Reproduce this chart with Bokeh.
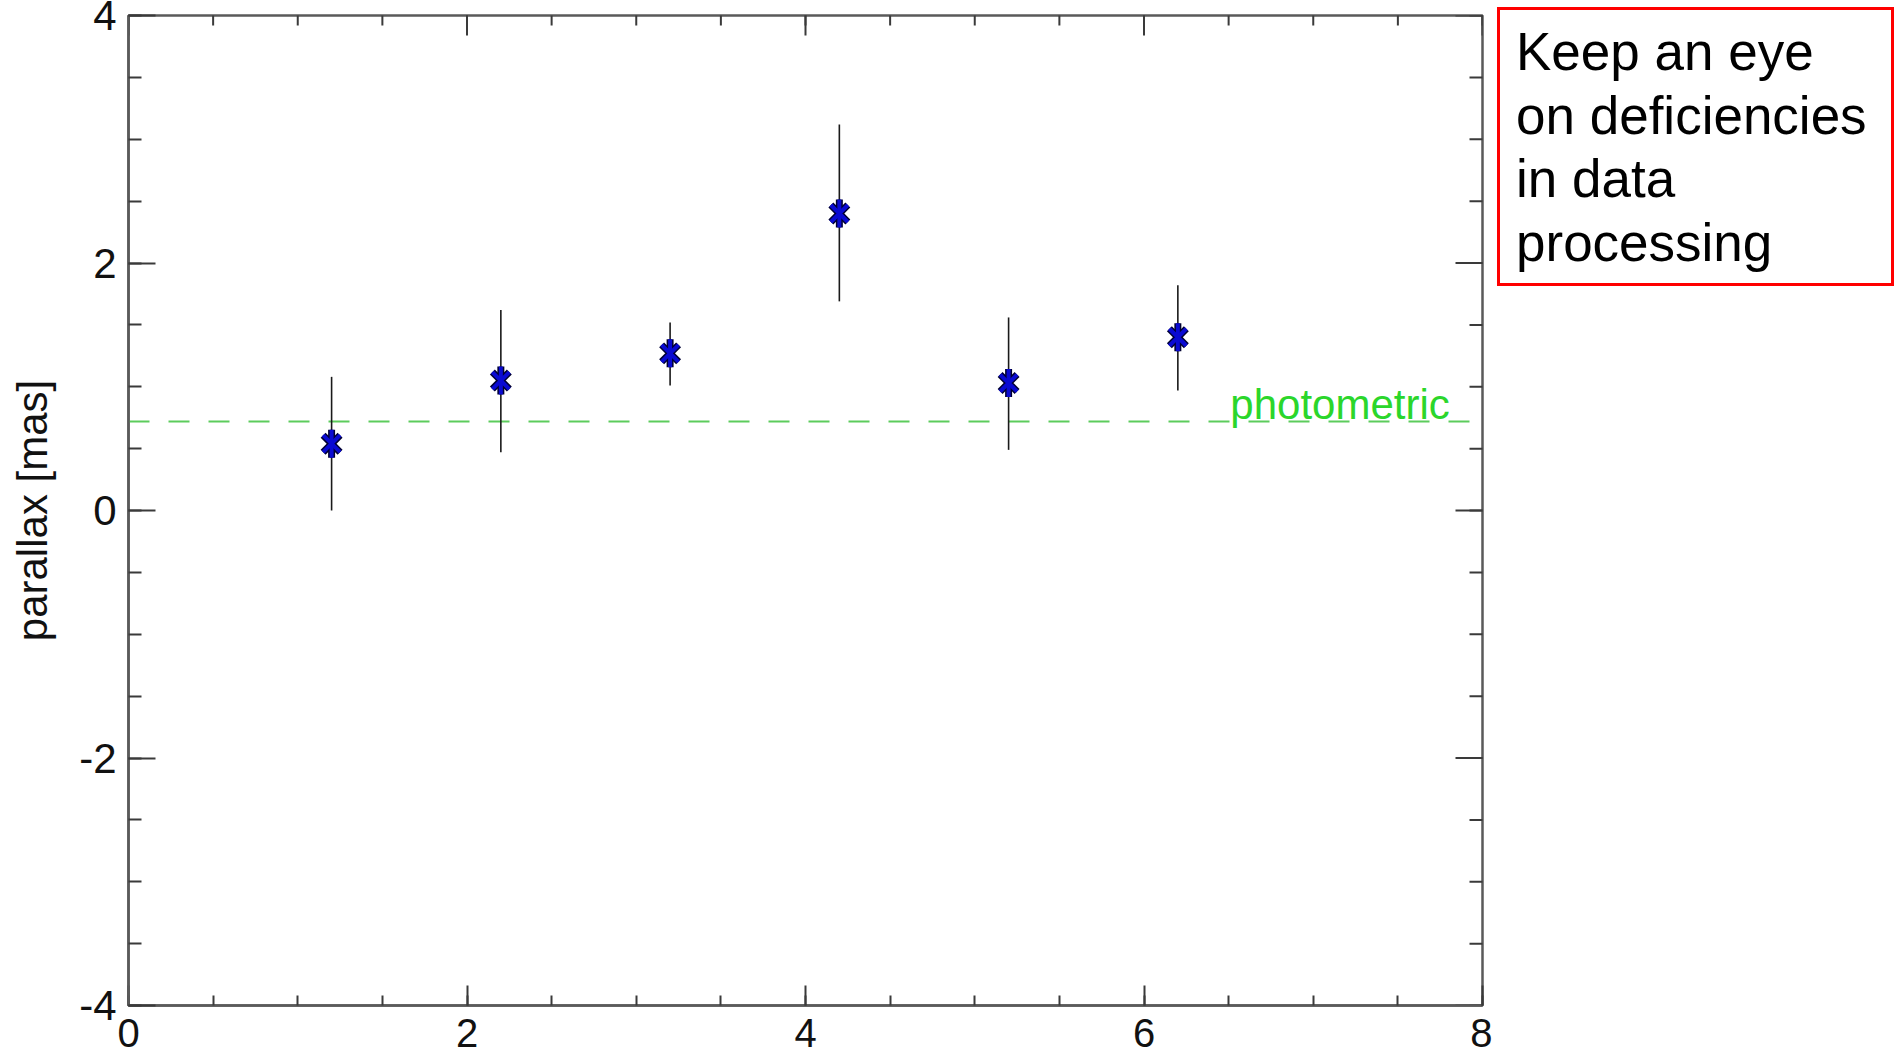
from bokeh.plotting import figure
from bokeh.models import Range1d, LinearAxis, FixedTicker, Div
from bokeh.layouts import row
from bokeh.embed import file_html
from bokeh.resources import INLINE
from bokeh.core.properties import value

# ---- data ----
epoch = [1.2, 2.2, 3.2, 4.2, 5.2, 6.2]
parallax = [0.54, 1.05, 1.27, 2.40, 1.03, 1.40]
err_low = [0.00, 0.47, 1.01, 1.69, 0.49, 0.97]
err_high = [1.08, 1.62, 1.52, 3.12, 1.56, 1.82]
photometric = 0.72
photometric_label = ["photometric"]
photometric_label_x = [6.51]

x_major = [0, 2, 4, 6, 8]
x_minor = [0.5 * i for i in range(17)]
y_major = [-4, -2, 0, 2, 4]
y_minor = [-4 + 0.5 * i for i in range(17)]
y_tick_text = {-4: "-4", -2: "-2", 0: "0", 2: "2", 4: "4"}

note_lines = ["Keep an eye", "on deficiencies", "in data", "processing"]

FONT = "Liberation Sans"
AXIS_COL = "#5a5a5a"
TICK_COL = "#3a3a3a"
X_MAJ, X_MIN = 20, 10
Y_MAJ, Y_MIN = 27, 13

p = figure(frame_width=1354, frame_height=990,
           x_range=Range1d(x_major[0], x_major[-1]),
           y_range=Range1d(y_major[0], y_major[-1]),
           output_backend="svg", toolbar_location=None,
           min_border_left=128, min_border_top=15,
           min_border_right=10, min_border_bottom=56,
           x_axis_type=None, y_axis_type=None)
p.outline_line_color = AXIS_COL
p.outline_line_width = 2.5
p.background_fill_color = "white"
p.border_fill_color = "white"


def style_axis(ax, ticks, minors, major_len, minor_len, size):
    ax.ticker = FixedTicker(ticks=ticks, minor_ticks=minors)
    ax.axis_line_color = AXIS_COL
    ax.axis_line_width = 2.5
    ax.major_tick_line_color = TICK_COL
    ax.major_tick_line_width = 2
    ax.minor_tick_line_color = TICK_COL
    ax.minor_tick_line_width = 2
    ax.major_tick_in = major_len
    ax.major_tick_out = 0
    ax.minor_tick_in = minor_len
    ax.minor_tick_out = 0
    ax.major_label_text_font = FONT
    ax.major_label_text_font_size = size
    ax.major_label_text_color = "#111111"


xb = LinearAxis()
style_axis(xb, x_major, x_minor, X_MAJ, X_MIN, "40px")
xb.major_label_standoff = 13
p.add_layout(xb, "below")

yl = LinearAxis()
style_axis(yl, y_major, y_minor, Y_MAJ, Y_MIN, "42px")
yl.major_label_overrides = y_tick_text
yl.major_label_standoff = 12
yl.axis_label = "parallax [mas]"
yl.axis_label_text_font = FONT
yl.axis_label_text_font_size = "42px"
yl.axis_label_text_font_style = "normal"
yl.axis_label_text_color = "#111111"
yl.axis_label_standoff = 20
p.add_layout(yl, "left")

# mirror ticks on the top and right frame edges (half of each dash is clipped)
n_x = len(x_minor)
n_y = len(y_minor)
p.scatter(x=x_minor, y=[y_major[-1]] * n_x, marker="dash", angle=1.5708,
          size=2 * X_MIN, line_color=TICK_COL, line_width=2)
p.scatter(x=x_major, y=[y_major[-1]] * len(x_major), marker="dash", angle=1.5708,
          size=2 * X_MAJ, line_color=TICK_COL, line_width=2)
p.scatter(x=[x_major[-1]] * n_y, y=y_minor, marker="dash",
          size=2 * Y_MIN, line_color=TICK_COL, line_width=2)
p.scatter(x=[x_major[-1]] * len(y_major), y=y_major, marker="dash",
          size=2 * Y_MAJ, line_color=TICK_COL, line_width=2)

# photometric level
p.line(x=[x_major[0], x_major[-1]], y=[photometric, photometric],
       line_color="#5ccc5c", line_width=2, line_dash="21 19")
p.text(x=photometric_label_x, y=[photometric], text=photometric_label,
       text_font=value(FONT), text_font_size="42px", text_color="#2bd62b",
       text_align="left", text_baseline="bottom", y_offset=7)

# error bars
p.segment(x0=epoch, y0=err_low, x1=epoch, y1=err_high,
          line_color="#1a1a1a", line_width=1.6)

# asterisk markers (X + vertical bar), dark outline then blue
p.scatter(x=epoch, y=parallax, marker="x", size=24,
          line_color="#000033", line_width=7)
p.scatter(x=epoch, y=parallax, marker="dash", angle=1.5708, size=28,
          line_color="#000033", line_width=7)
p.scatter(x=epoch, y=parallax, marker="x", size=24,
          line_color="#0a0ad2", line_width=4)
p.scatter(x=epoch, y=parallax, marker="dash", angle=1.5708, size=28,
          line_color="#0a0ad2", line_width=4)

note_html = (
    '<div style="box-sizing:border-box;width:397px;height:279px;'
    'margin-left:0px;margin-top:2px;border:3px solid #ff0000;'
    'padding:10px 0 0 16px;font-family:\'Liberation Sans\',Arial,sans-serif;'
    'font-size:53px;line-height:63.5px;color:#000;white-space:nowrap;">'
    + "<br>".join(note_lines) + "</div>"
)
div = Div(text=note_html, width=406, height=300)

layout = row(p, div)

open("out.html", "w").write(file_html(layout, INLINE))
